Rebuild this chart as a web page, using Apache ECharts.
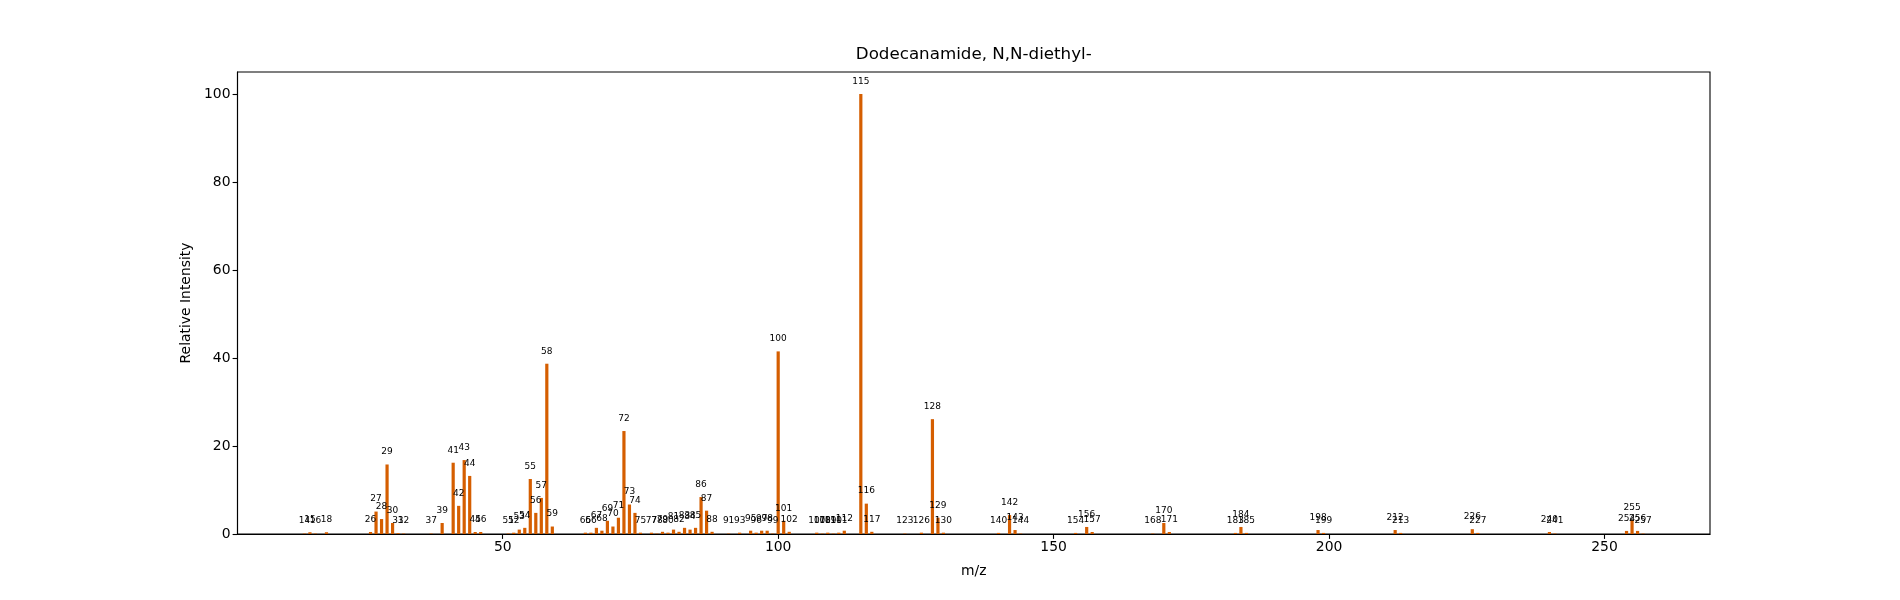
<!DOCTYPE html>
<html>
<head>
<meta charset="utf-8">
<script src="https://cdn.jsdelivr.net/npm/echarts@6/dist/echarts.min.js"></script>
<style>
html,body{margin:0;padding:0;background:#fff;}
#c{width:1900px;height:600px;}
</style>
</head>
<body>
<div id="c"></div>
<script>
const mz = [14,15,16,18,26,27,28,29,30,31,32,37,39,41,42,43,44,45,46,51,52,53,54,55,56,57,58,59,65,66,67,68,69,70,71,72,73,74,75,77,78,79,80,81,82,83,84,85,86,87,88,91,93,95,96,97,98,99,100,101,102,107,108,109,110,111,112,115,116,117,123,126,128,129,130,140,142,143,144,154,156,157,168,170,171,183,184,185,198,199,212,213,226,227,240,241,254,255,256,257];
const intensity = [0.1,0.4,0.1,0.4,0.45,5.1,3.4,15.8,2.5,0.2,0.1,0.1,2.5,16.2,6.4,16.8,13.2,0.45,0.45,0.1,0.3,1.0,1.4,12.5,4.8,8.2,38.7,1.7,0.3,0.3,1.4,0.75,3.0,1.7,3.7,23.4,6.7,4.8,0.3,0.3,0.1,0.5,0.3,1.0,0.5,1.4,1.0,1.4,8.4,5.3,0.5,0.1,0.3,0.75,0.3,0.75,0.75,0.1,41.5,3.0,0.5,0.3,0.1,0.3,0.1,0.3,0.75,100,6.9,0.5,0.1,0.3,26.1,3.7,0.3,0.25,4.3,0.9,0.1,0.25,1.6,0.45,0.1,2.5,0.45,0.25,1.6,0.25,0.9,0.25,0.9,0.25,1.1,0.25,0.45,0.1,0.7,3.2,0.7,0.1];
const xTicks = [50,100,150,200,250];
const yTicks = [0,20,40,60,80,100];
const title = 'Dodecanamide, N,N-diethyl-';

const chart = echarts.init(document.getElementById('c'), null, {renderer:'canvas'});
const F = 'DejaVu Sans';
chart.setOption({
  animation:false,
  backgroundColor:'#fff',
  title:{text:title,left:973.75,top:46,textAlign:'center',padding:0,
    textStyle:{fontFamily:F,fontSize:16.7,fontWeight:'normal',color:'#000'}},
  grid:{left:237.5,right:190,top:72,bottom:66,show:true,borderColor:'#000',borderWidth:1.1,backgroundColor:'transparent'},
  xAxis:{type:'value',min:1.85,max:269.15,name:'m/z',nameLocation:'middle',nameGap:30,
    nameTextStyle:{fontFamily:F,fontSize:13.9,color:'#000'},
    axisLine:{show:true,onZero:false,lineStyle:{color:'#000',width:1.1}},
    axisTick:{show:true,length:4.9,lineStyle:{color:'#000',width:1.1},customValues:xTicks},
    axisLabel:{fontFamily:F,fontSize:13.9,color:'#000',margin:6,customValues:xTicks},
    splitLine:{show:false}},
  yAxis:{type:'value',min:0,max:105,name:'Relative Intensity',nameLocation:'middle',nameGap:40,
    nameTextStyle:{fontFamily:F,fontSize:13.9,color:'#000'},
    axisLine:{show:true,lineStyle:{color:'#000',width:1.1}},
    axisTick:{show:true,length:4.9,lineStyle:{color:'#000',width:1.1},customValues:yTicks},
    axisLabel:{fontFamily:F,fontSize:13.9,color:'#000',margin:7,customValues:yTicks},
    splitLine:{show:false}},
  series:[{
    type:'bar',
    barWidth:3.2,
    data:mz.map((m,i)=>[m,intensity[i]]),
    itemStyle:{color:'#D55E00'},
    label:{show:true,position:'top',distance:8,fontFamily:F,fontSize:9,color:'#000',
      formatter:p=>String(p.value[0])},
    labelLayout:{hideOverlap:false}
  }]
});
</script>
</body>
</html>
